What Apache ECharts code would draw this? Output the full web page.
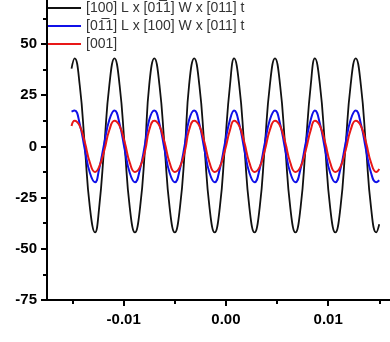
<!DOCTYPE html>
<html style="height: 100%">
<head>
    <meta charset="utf-8">
</head>
<body style="height: 100%; margin: 0; background: #fff">
    <div id="container" style="width: 390px; height: 342px"></div>
    <script src="https://cdn.jsdelivr.net/npm/echarts@6/dist/echarts.min.js"></script>
    <script type="text/javascript">
        // time (s), read at peaks, troughs, zero crossings and halfway points
        var times = [-0.0151,
            -0.0148, -0.0143, -0.0138, -0.0133, -0.0128, -0.0124, -0.0119, -0.0114,
            -0.0109, -0.0104, -0.0099, -0.0094, -0.0089, -0.0084, -0.0079, -0.0075,
            -0.0070, -0.0065, -0.0060, -0.0055, -0.0050, -0.0045, -0.0040, -0.0036,
            -0.0031, -0.0026, -0.0021, -0.0016, -0.0011, -0.0006, -0.0001, 0.0004,
            0.0008, 0.0013, 0.0018, 0.0023, 0.0028, 0.0033, 0.0038, 0.0043,
            0.0048, 0.0053, 0.0058, 0.0063, 0.0068, 0.0073, 0.0078, 0.0083,
            0.0087, 0.0092, 0.0097, 0.0102, 0.0107, 0.0112, 0.0117, 0.0122,
            0.0127, 0.0132, 0.0137, 0.0142, 0.0147,
            0.0150];
        var black = [38,
            43, 30, 0, -30, -42, -30, 0, 30,
            43, 30, 0, -30, -42, -30, 0, 30,
            43, 30, 0, -30, -42, -30, 0, 30,
            43, 30, 0, -30, -42, -30, 0, 30,
            43, 30, 0, -30, -42, -30, 0, 30,
            43, 30, 0, -30, -42, -30, 0, 30,
            43, 30, 0, -30, -42, -30, 0, 30,
            43, 30, 0, -30, -42,
            -38];
        var blue = [17,
            17.5, 11, -1.5, -13, -17.5, -11, 1.5, 13,
            17.5, 11, -1.5, -13, -17.5, -11, 1.5, 13,
            17.5, 11, -1.5, -13, -17.5, -11, 1.5, 13,
            17.5, 11, -1.5, -13, -17.5, -11, 1.5, 13,
            17.5, 11, -1.5, -13, -17.5, -11, 1.5, 13,
            17.5, 11, -1.5, -13, -17.5, -11, 1.5, 13,
            17.5, 11, -1.5, -13, -17.5, -11, 1.5, 13,
            17.5, 11, -1.5, -13, -17.5,
            -16.5];
        var red = [10,
            12.5, 10, 2, -8, -12.5, -10, -2, 8,
            12.5, 10, 2, -8, -12.5, -10, -2, 8,
            12.5, 10, 2, -8, -12.5, -10, -2, 8,
            12.5, 10, 2, -8, -12.5, -10, -2, 8,
            12.5, 10, 2, -8, -12.5, -10, -2, 8,
            12.5, 10, 2, -8, -12.5, -10, -2, 8,
            12.5, 10, 2, -8, -12.5, -10, -2, 8,
            12.5, 10, 2, -8, -12.5,
            -11];
        var names = ['[100] L x [01\u03051] W x [011] t', '[01\u03051] L x [100] W x [011] t', '[001]'];
        var xLabels = [-0.01, 0, 0.01];
        var xMinor = [-0.015, -0.005, 0.005, 0.015];
        var yLabels = [-75, -50, -25, 0, 25, 50];
        var yMinor = [-62.5, -37.5, -12.5, 12.5, 37.5, 62.5];

        function pairs(ys) {
            var out = [];
            for (var i = 0; i < times.length; i++) out.push([times[i], ys[i]]);
            return out;
        }

        var myChart = echarts.init(document.getElementById('container'));
        var font = 'Liberation Sans, Arial, sans-serif';
        var tickStyle = { color: '#000', width: 2 };
        var option = {
            animation: false,
            grid: { left: 47, right: 0, top: 0, bottom: 42, outerBoundsMode: 'none' },
            legend: {
                orient: 'vertical', left: 48, top: 1, padding: 0,
                icon: 'rect', itemWidth: 33, itemHeight: 2, itemGap: 4,
                textStyle: { fontFamily: font, fontSize: 14, color: '#333', lineHeight: 14 },
                data: names
            },
            xAxis: [{
                type: 'value', min: -0.0175, max: 0.01605, position: 'bottom',
                axisLine: { onZero: false, lineStyle: tickStyle },
                axisTick: { show: true, customValues: xLabels, length: 6, lineStyle: tickStyle },
                axisLabel: {
                    customValues: xLabels, margin: 12, color: '#000', fontWeight: 'bold',
                    fontSize: 15, fontFamily: font,
                    formatter: function (v) { return v.toFixed(2); }
                },
                splitLine: { show: false }
            }, {
                type: 'value', min: -0.0175, max: 0.01605, position: 'bottom',
                axisLine: { show: false, onZero: false },
                axisTick: { show: true, customValues: xMinor, length: 4, lineStyle: tickStyle },
                axisLabel: { show: false },
                splitLine: { show: false }
            }],
            yAxis: [{
                type: 'value', min: -75, max: 71.5, position: 'left',
                axisLine: { show: true, onZero: false, lineStyle: tickStyle },
                axisTick: { show: true, customValues: yLabels, length: 6, lineStyle: tickStyle },
                axisLabel: {
                    customValues: yLabels, margin: 10, color: '#000', fontWeight: 'bold',
                    fontSize: 15, fontFamily: font
                },
                splitLine: { show: false }
            }, {
                type: 'value', min: -75, max: 71.5, position: 'left',
                axisLine: { show: false, onZero: false },
                axisTick: { show: true, customValues: yMinor, length: 4, lineStyle: tickStyle },
                axisLabel: { show: false },
                splitLine: { show: false }
            }],
            series: [
                { name: names[0], type: 'line', data: pairs(black), smooth: 0.5, symbol: 'none',
                  itemStyle: { color: '#111' }, lineStyle: { color: '#111', width: 1.8 } },
                { name: names[1], type: 'line', data: pairs(blue), smooth: 0.5, symbol: 'none',
                  itemStyle: { color: '#1010e8' }, lineStyle: { color: '#1010e8', width: 2 } },
                { name: names[2], type: 'line', data: pairs(red), smooth: 0.5, symbol: 'none',
                  itemStyle: { color: '#e81818' }, lineStyle: { color: '#e81818', width: 2 } }
            ]
        };
        myChart.setOption(option, true);
    </script>
</body>
</html>
